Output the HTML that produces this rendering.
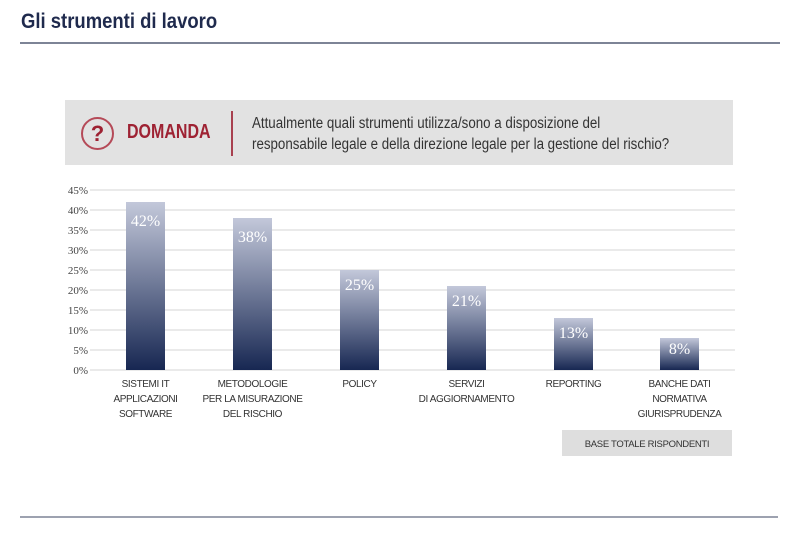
<!DOCTYPE html>
<html><head><meta charset="utf-8"><style>
body{margin:0;width:805px;height:538px;background:#fff;position:relative;overflow:hidden;font-family:"Liberation Sans",sans-serif}
.a{position:absolute;white-space:nowrap;transform-origin:0 0}
</style></head><body>
<div class="a" style="left:21px;top:10px;font-size:21px;font-weight:bold;color:#1f2a4d;transform:scaleX(0.88)">Gli strumenti di lavoro</div>
<div class="a" style="left:20px;top:42px;width:760px;height:2px;background:#7d8496"></div>
<div class="a" style="left:65px;top:100px;width:668px;height:65px;background:#e2e2e2"></div>
<div class="a" style="left:81px;top:117px;width:29px;height:29px;border:2px solid #b54a58;border-radius:50%;color:#9e2233;font-weight:bold;font-size:22px;text-align:center;line-height:29px">?</div>
<div class="a" style="left:127px;top:121px;font-size:20px;font-weight:bold;color:#9e2233;transform:scaleX(0.8)">DOMANDA</div>
<div class="a" style="left:231px;top:111px;width:2px;height:45px;background:#a8404f"></div>
<div class="a" style="left:252px;top:113px;font-size:15.5px;line-height:21px;color:#333;transform:scaleX(0.86)">Attualmente quali strumenti utilizza/sono a disposizione del<br>responsabile legale e della direzione legale per la gestione del rischio?</div>
<svg class="a" style="left:0;top:0" width="805" height="538">
<defs><linearGradient id="g" x1="0" y1="0" x2="0" y2="1"><stop offset="0" stop-color="#c3c8da"/><stop offset="1" stop-color="#172752"/></linearGradient></defs>
<g stroke="#e4e4e4" stroke-width="1.5">
<line x1="90" x2="735" y1="190" y2="190"/><line x1="90" x2="735" y1="210" y2="210"/><line x1="90" x2="735" y1="230" y2="230"/><line x1="90" x2="735" y1="250" y2="250"/><line x1="90" x2="735" y1="270" y2="270"/><line x1="90" x2="735" y1="290" y2="290"/><line x1="90" x2="735" y1="310" y2="310"/><line x1="90" x2="735" y1="330" y2="330"/><line x1="90" x2="735" y1="350" y2="350"/><line x1="90" x2="735" y1="370" y2="370"/>
</g>
<g font-family="Liberation Serif,serif" font-size="11" fill="#444" text-anchor="end">
<text x="88" y="194">45%</text><text x="88" y="214">40%</text><text x="88" y="234">35%</text><text x="88" y="254">30%</text><text x="88" y="274">25%</text><text x="88" y="294">20%</text><text x="88" y="314">15%</text><text x="88" y="334">10%</text><text x="88" y="354">5%</text><text x="88" y="374">0%</text>
</g>
<g fill="url(#g)">
<rect x="126" y="202" width="39" height="168"/><rect x="233" y="218" width="39" height="152"/><rect x="340" y="270" width="39" height="100"/><rect x="447" y="286" width="39" height="84"/><rect x="554" y="318" width="39" height="52"/><rect x="660" y="338" width="39" height="32"/>
</g>
<g font-family="Liberation Serif,serif" font-size="16" fill="#fff" text-anchor="middle">
<text x="145.5" y="226">42%</text><text x="252.5" y="242">38%</text><text x="359.5" y="290">25%</text><text x="466.5" y="306">21%</text><text x="573.5" y="338">13%</text><text x="679.5" y="354">8%</text>
</g>
<g font-family="Liberation Sans,sans-serif" font-size="10" fill="#333" text-anchor="middle" letter-spacing="-0.4">
<text x="145.5" y="387">SISTEMI IT</text><text x="145.5" y="402">APPLICAZIONI</text><text x="145.5" y="417">SOFTWARE</text>
<text x="252.5" y="387">METODOLOGIE</text><text x="252.5" y="402">PER LA MISURAZIONE</text><text x="252.5" y="417">DEL RISCHIO</text>
<text x="359.5" y="387">POLICY</text>
<text x="466.5" y="387">SERVIZI</text><text x="466.5" y="402">DI AGGIORNAMENTO</text>
<text x="573.5" y="387">REPORTING</text>
<text x="679.5" y="387">BANCHE DATI</text><text x="679.5" y="402">NORMATIVA</text><text x="679.5" y="417">GIURISPRUDENZA</text>
</g>
<rect x="562" y="430" width="170" height="26" fill="#dedede"/>
<text x="647" y="447" font-family="Liberation Sans,sans-serif" font-size="9.5" letter-spacing="-0.3" fill="#333" text-anchor="middle">BASE TOTALE RISPONDENTI</text>
<line x1="20" x2="778" y1="517" y2="517" stroke="#7d8496" stroke-width="1.5"/>
</svg>
</body></html>
